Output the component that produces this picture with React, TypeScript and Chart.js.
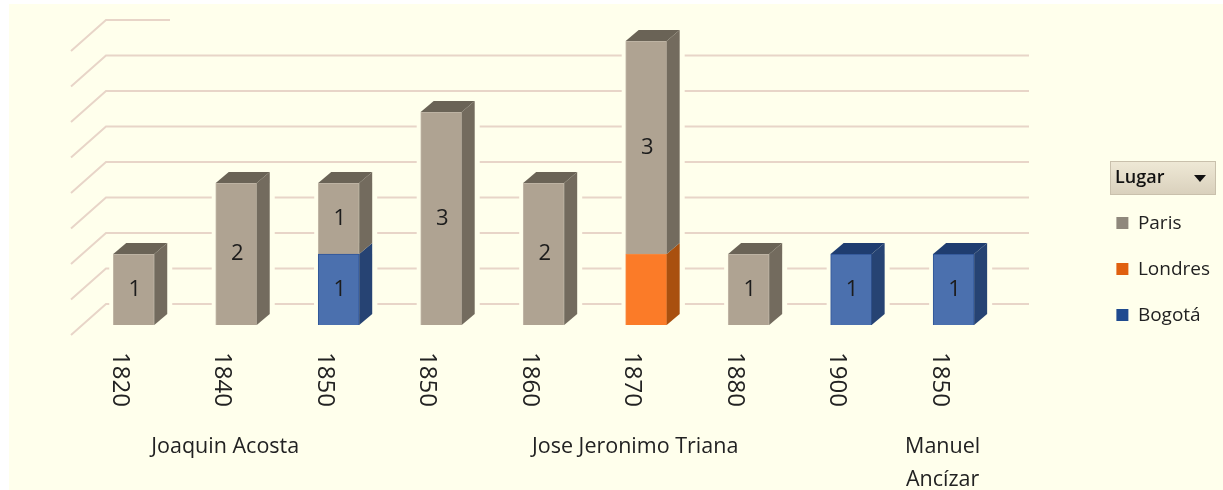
import React, { useEffect, useRef } from "react";
import { Chart, registerables } from "chart.js";

Chart.register(...registerables);

const years = ["1820", "1840", "1850", "1850", "1860", "1870", "1880", "1900", "1850"];
const authors: (string | string[])[] = ["", "Joaquin Acosta", "", "", "", "Jose Jeronimo Triana", "", "", ["Manuel", "Ancízar"]];
const bogota = [null, null, 1, null, null, null, null, 1, 1];
const londres = [null, null, null, null, null, 1, null, null, null];
const paris = [1, 2, 1, 3, 2, 3, 1, null, null];
const legendTitle = "Lugar";

const BG = "#FFFFEC";
const FONT = '"Open Sans", sans-serif';
const faces: Record<string, { front: string; edge: string; side: string; top: string; legend: string; labelled: boolean }> = {
  Paris: { front: "#AFA392", edge: "#C2B8A8", side: "#736B5E", top: "#6A6356", legend: "#8F887C", labelled: true },
  Londres: { front: "#FB7B28", edge: "#F58A42", side: "#A9500F", top: "#A9500F", legend: "#E0600F", labelled: false },
  "Bogotá": { front: "#4B70AE", edge: "#2F5597", side: "#264373", top: "#1F3D70", legend: "#1F4A8F", labelled: true },
};

const chart3d = {
  id: "chart3d",
  beforeDraw(c: any) {
    const { ctx } = c;
    ctx.save();
    const g = ctx.createLinearGradient(0, 161, 0, 195);
    g.addColorStop(0, "#EFE9D6");
    g.addColorStop(1, "#D9D0BC");
    ctx.fillStyle = g;
    ctx.fillRect(1110, 161, 106, 34);
    ctx.strokeStyle = "#C9C0AC";
    ctx.strokeRect(1110.5, 161.5, 105, 33);
    ctx.fillStyle = "#111";
    ctx.beginPath();
    ctx.moveTo(1194, 175);
    ctx.lineTo(1206, 175);
    ctx.lineTo(1200, 182);
    ctx.closePath();
    ctx.fill();
    ctx.font = `600 18px ${FONT}`;
    ctx.textAlign = "left";
    ctx.textBaseline = "middle";
    ctx.fillText(legendTitle, 1115, 178);
    ctx.restore();
  },
  beforeDatasetsDraw(c: any) {
    const { ctx, scales } = c;
    const yS = scales.y;
    ctx.save();
    ctx.strokeStyle = "#E8D5C8";
    ctx.lineWidth = 2;
    const last = yS.ticks.length - 1;
    yS.ticks.forEach((t: any, i: number) => {
      const y = yS.getPixelForValue(t.value);
      ctx.beginPath();
      ctx.moveTo(71, y + 10);
      ctx.lineTo(106, y - 21);
      ctx.lineTo(i === last ? 170 : 1029, y - 21);
      ctx.stroke();
    });
    ctx.fillStyle = BG;
    const tops: Record<number, number> = {};
    c.data.datasets.forEach((_: any, d: number) => {
      c.getDatasetMeta(d).data.forEach((el: any, i: number) => {
        if (c.data.datasets[d].data[i] == null) return;
        tops[i] = Math.min(tops[i] ?? 1e9, el.y);
        const w = el.width;
        ctx.fillRect(el.x - w / 2 - 4, tops[i] - 11, w + 22, yS.getPixelForValue(0) - tops[i] + 11);
      });
    });
    ctx.restore();
  },
  afterDatasetsDraw(c: any) {
    const { ctx } = c;
    const dx = 13;
    const dy = 11;
    ctx.save();
    const n = c.data.datasets.length;
    c.data.datasets.forEach((ds: any, d: number) => {
      const f = faces[ds.label];
      c.getDatasetMeta(d).data.forEach((el: any, i: number) => {
        const v = ds.data[i];
        if (v == null) return;
        const r = el.x + el.width / 2;
        const l = el.x - el.width / 2;
        ctx.fillStyle = f.side;
        ctx.beginPath();
        ctx.moveTo(r, el.y);
        ctx.lineTo(r + dx, el.y - dy);
        ctx.lineTo(r + dx, el.base - dy);
        ctx.lineTo(r, el.base);
        ctx.closePath();
        ctx.fill();
        let isTop = true;
        for (let k = d + 1; k < n; k++) if (c.data.datasets[k].data[i] != null) isTop = false;
        if (isTop) {
          ctx.fillStyle = f.top;
          ctx.beginPath();
          ctx.moveTo(l, el.y);
          ctx.lineTo(l + dx, el.y - dy);
          ctx.lineTo(r + dx, el.y - dy);
          ctx.lineTo(r, el.y);
          ctx.closePath();
          ctx.fill();
        }
        if (f.labelled) {
          ctx.fillStyle = "#1C1C1C";
          ctx.font = `22px ${FONT}`;
          ctx.textAlign = "center";
          ctx.textBaseline = "middle";
          ctx.fillText(String(v), el.x + 1, (el.y + el.base) / 2);
        }
      });
    });
    ctx.restore();
  },
};

export default function App() {
  const ref = useRef<HTMLCanvasElement>(null);
  useEffect(() => {
    const mk = (label: string, data: (number | null)[]) => ({
      label,
      data,
      backgroundColor: faces[label].front,
      borderColor: faces[label].edge,
      borderWidth: 1,
      barThickness: 41,
      stack: "s",
    });
    const chart = new Chart(ref.current!, {
      type: "bar",
      data: {
        labels: years,
        datasets: [mk("Bogotá", bogota), mk("Londres", londres), mk("Paris", paris)],
      },
      options: {
        animation: false,
        responsive: false,
        layout: { padding: { left: 82.5, top: 41, right: 3, bottom: 0 } },
        scales: {
          x: {
            stacked: true,
            weight: 1,
            grid: { display: false },
            border: { display: false },
            ticks: {
              autoSkip: false,
              minRotation: -90,
              maxRotation: -90,
              padding: 74,
              labelOffset: -14,
              color: "#222",
              font: { family: FONT, size: 24 },
            },
            afterFit: (s: any) => {
              s.height = 95;
            },
          },
          x2: {
            type: "category",
            position: "bottom",
            weight: 2,
            labels: authors as any,
            grid: { display: false },
            border: { display: false },
            ticks: {
              autoSkip: false,
              maxRotation: 0,
              minRotation: 0,
              padding: 2,
              labelOffset: -11,
              color: "#222",
              font: { family: FONT, size: 21.5, lineHeight: 1.55 },
            },
            afterFit: (s: any) => {
              s.height = 70;
            },
          },
          y: {
            stacked: true,
            min: 0,
            max: 4,
            display: false,
            ticks: { stepSize: 0.5 },
          },
          gap: {
            position: "right",
            display: true,
            grid: { display: false },
            border: { display: false },
            ticks: { display: false },
            afterFit: (s: any) => {
              s.width = 84.5;
            },
          },
        },
        plugins: {
          tooltip: { enabled: false },
          legend: {
            position: "right",
            align: "start",
            reverse: true,
            title: {
              display: true,
              text: " ",
              position: "start",
              font: { family: FONT, size: 18 },
              padding: { top: 130, bottom: -6 },
            },
            labels: {
              boxWidth: 12,
              boxHeight: 12,
              padding: 27,
              color: "#222",
              font: { family: FONT, size: 19 },
              generateLabels: (c: any) =>
                c.data.datasets.map((ds: any, i: number) => ({
                  text: ds.label,
                  fillStyle: faces[ds.label].legend,
                  strokeStyle: faces[ds.label].legend,
                  lineWidth: 0,
                  datasetIndex: i,
                  fontColor: "#222",
                })),
            },
          },
        },
      } as any,
      plugins: [chart3d],
    } as any);
    return () => chart.destroy();
  }, []);
  return (
    <div style={{ position: "absolute", left: 0, top: 0, width: 1223, height: 490, background: "#fff" }}>
      <div style={{ position: "absolute", left: 9, top: 4, width: 1214, height: 486, background: BG }} />
      <canvas ref={ref} width={1223} height={490} style={{ position: "absolute", left: 0, top: 0 }} />
    </div>
  );
}
